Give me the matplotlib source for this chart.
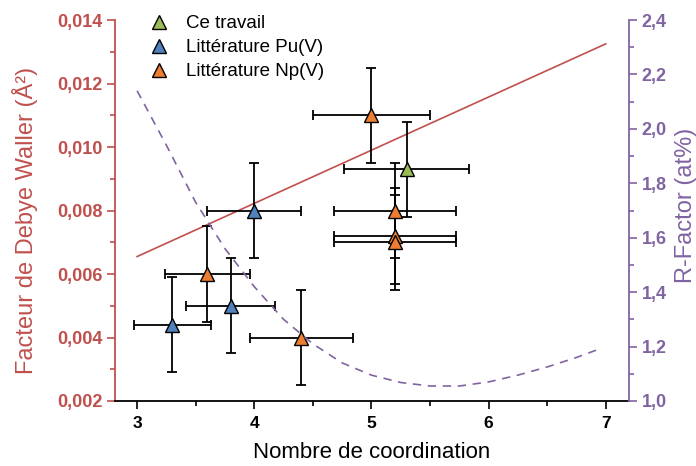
import matplotlib.pyplot as plt
from matplotlib.lines import Line2D
from matplotlib.ticker import MultipleLocator, FuncFormatter

plt.rcParams['font.family'] = ['Liberation Sans', 'DejaVu Sans']

# Data
ce_x = [5.3]
ce_y = [0.0093]
ce_xerr = [0.53]
ce_yerr = [0.0015]

pu_x = [3.3, 3.8, 4.0]
pu_y = [0.0044, 0.0050, 0.0080]
pu_xerr = [0.33, 0.38, 0.40]
pu_yerr = [0.0015, 0.0015, 0.0015]

np_x = [3.6, 4.4, 5.0, 5.2, 5.2, 5.2]
np_y = [0.0060, 0.0040, 0.0110, 0.0080, 0.0072, 0.0070]
np_xerr = [0.36, 0.44, 0.50, 0.52, 0.52, 0.52]
np_yerr = [0.0015, 0.0015, 0.0015, 0.0015, 0.0015, 0.0015]

fit_x = [3.0, 7.0]
fit_y = [0.00655, 0.01325]

rf_x = [3.0, 3.25, 3.5, 3.75, 4.0, 4.25, 4.5, 4.75, 5.0, 5.25, 5.5, 5.75,
        6.0, 6.25, 6.5, 6.75, 6.97]
rf_y = [2.14, 1.94, 1.73, 1.56, 1.42, 1.30, 1.21, 1.14, 1.095, 1.068, 1.055,
        1.055, 1.07, 1.095, 1.125, 1.16, 1.195]

red = '#C0504D'
purple = '#8064A2'
c_green = '#9BBB59'
c_blue = '#4F81BD'
c_orange = '#ED7D31'

fig = plt.figure(figsize=(6.96, 4.66), dpi=100)
ax = fig.add_axes([0.165, 0.1395, 0.739, 0.8175])
ax2 = ax.twinx()

ax.plot(fit_x, fit_y, color=red, linewidth=1.2, zorder=2)
ax2.plot(rf_x, rf_y, color=purple, linewidth=1.2, linestyle=(0, (5, 4)))

for xs, ys, xe, ye, col in [(ce_x, ce_y, ce_xerr, ce_yerr, c_green),
                            (pu_x, pu_y, pu_xerr, pu_yerr, c_blue),
                            (np_x, np_y, np_xerr, np_yerr, c_orange)]:
    ax.errorbar(xs, ys, xerr=xe, yerr=ye, fmt='none', ecolor='black',
                elinewidth=1.3, capsize=3.5, capthick=1.3, zorder=3)
    ax.plot(xs, ys, linestyle='none', marker='^', markersize=10,
            markerfacecolor=col, markeredgecolor='black', markeredgewidth=1.0,
            zorder=4)

ax.set_xlim(2.81, 7.2)
ax.set_ylim(0.002, 0.014)
ax2.set_ylim(1.0, 2.4)

ax.xaxis.set_major_locator(MultipleLocator(1))
ax.xaxis.set_minor_locator(MultipleLocator(0.5))
ax.yaxis.set_major_locator(MultipleLocator(0.002))
ax.yaxis.set_minor_locator(MultipleLocator(0.001))
ax2.yaxis.set_major_locator(MultipleLocator(0.2))
ax2.yaxis.set_minor_locator(MultipleLocator(0.1))

ax.yaxis.set_major_formatter(FuncFormatter(lambda v, p: f'{v:.3f}'.replace('.', ',')))
ax2.yaxis.set_major_formatter(FuncFormatter(lambda v, p: f'{v:.1f}'.replace('.', ',')))

ax.spines['top'].set_visible(False)
ax2.spines['top'].set_visible(False)
ax.spines['left'].set_color(red)
ax2.spines['left'].set_visible(False)
ax.spines['right'].set_visible(False)
ax2.spines['right'].set_color(purple)
ax2.spines['bottom'].set_visible(False)
for sp in ['left', 'bottom']:
    ax.spines[sp].set_linewidth(1.3)
ax2.spines['right'].set_linewidth(1.3)

ax.tick_params(axis='x', which='major', direction='out', length=6, width=1.2,
               labelsize=12.5, pad=5)
ax.tick_params(axis='x', which='minor', direction='out', length=3.5, width=1.2)
ax.tick_params(axis='y', which='major', direction='out', length=6, width=1.2,
               colors=red, labelsize=13, pad=3)
ax.tick_params(axis='y', which='minor', direction='out', length=3.5, width=1.2,
               colors=red)
ax2.tick_params(axis='y', which='major', direction='out', length=6, width=1.2,
                colors=purple, labelsize=13, pad=3)
ax2.tick_params(axis='y', which='minor', direction='out', length=3.5, width=1.2,
                colors=purple)
for lab in ax.get_xticklabels() + ax.get_yticklabels() + ax2.get_yticklabels():
    lab.set_fontweight('bold')

ax.set_xlabel('Nombre de coordination', fontsize=16, labelpad=8)
ax.set_ylabel('Facteur de Debye Waller (Å²)', fontsize=17, color=red)
ax.yaxis.set_label_coords(-0.149, 0.475)
ax2.set_ylabel('R-Factor (at%)', fontsize=17, color=purple)
ax2.yaxis.set_label_coords(1.089, 0.514)

handles = [Line2D([], [], linestyle='none', marker='^', markersize=10,
                  markerfacecolor=c, markeredgecolor='black', markeredgewidth=1.0)
           for c in [c_green, c_blue, c_orange]]
ax.legend(handles, ['Ce travail', 'Littérature Pu(V)', 'Littérature Np(V)'],
          loc='upper left', bbox_to_anchor=(0.034, 1.032), frameon=False,
          fontsize=13.5, handletextpad=0.45, labelspacing=0.36, borderaxespad=0)

fig.savefig('out.png', dpi=100)
